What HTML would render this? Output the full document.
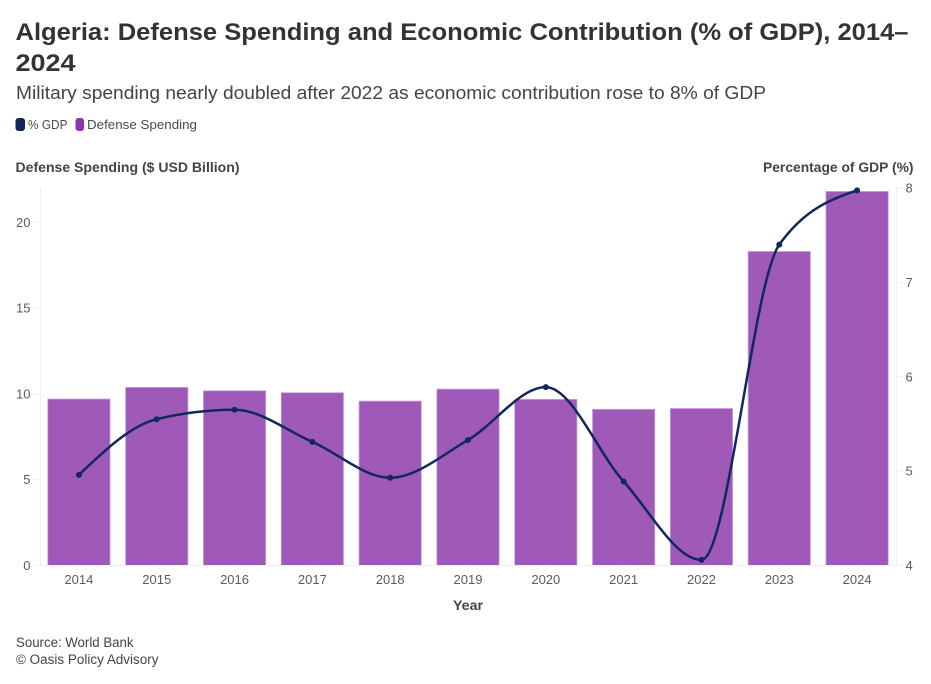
<!DOCTYPE html>
<html lang="en">
<head>
<meta charset="utf-8">
<title>Algeria: Defense Spending and Economic Contribution</title>
<style>
html,body{margin:0;padding:0;background:#fff;width:931px;height:684px;overflow:hidden}
svg{display:block;font-family:"Liberation Sans",sans-serif}
.tick{font-size:13px;fill:#5c5c5c}
.axt{font-size:14px;font-weight:700;fill:#444}
</style>
</head>
<body>
<svg id="chart" width="931" height="684" viewBox="0 0 931 684" xmlns="http://www.w3.org/2000/svg">
  <text x="15.5" y="40" font-size="24.5" font-weight="700" fill="#333" textLength="893" lengthAdjust="spacingAndGlyphs">Algeria: Defense Spending and Economic Contribution (% of GDP), 2014–</text>
  <text x="15.5" y="71" font-size="24.5" font-weight="700" fill="#333" textLength="60" lengthAdjust="spacingAndGlyphs">2024</text>
  <text x="16" y="99" font-size="18" fill="#444" textLength="750" lengthAdjust="spacingAndGlyphs">Military spending nearly doubled after 2022 as economic contribution rose to 8% of GDP</text>

  <g>
    <g>
      <rect x="15.5" y="118" width="9.5" height="13" rx="3" fill="#12275a"/>
      <text x="28" y="129" font-size="13" fill="#4a4a4a" textLength="39.5" lengthAdjust="spacingAndGlyphs">% GDP</text>
    </g>
    <g>
      <rect x="75.5" y="118" width="8.5" height="13" rx="3" fill="#8a35a8"/>
      <text x="87" y="129" font-size="13" fill="#4a4a4a" textLength="110" lengthAdjust="spacingAndGlyphs">Defense Spending</text>
    </g>
  </g>

  <text class="axt" x="15.5" y="172" textLength="224" lengthAdjust="spacingAndGlyphs">Defense Spending ($ USD Billion)</text>
  <text class="axt" x="763" y="172" textLength="150.5" lengthAdjust="spacingAndGlyphs">Percentage of GDP (%)</text>
  <text class="axt" x="468" y="610" text-anchor="middle" textLength="30" lengthAdjust="spacingAndGlyphs">Year</text>

  <g id="bars"></g>
  <g id="axes"></g>
  <path id="gdp-line" fill="none" stroke="#12275a" stroke-width="2.5" stroke-linejoin="round"/>
  <g id="points"></g>

  <text x="16" y="647" font-size="13.5" fill="#444" textLength="117.5" lengthAdjust="spacingAndGlyphs">Source: World Bank</text>
  <text x="16" y="664" font-size="13.5" fill="#444" textLength="142.5" lengthAdjust="spacingAndGlyphs">© Oasis Policy Advisory</text>
</svg>
<script>
const years = ["2014","2015","2016","2017","2018","2019","2020","2021","2022","2023","2024"];
const defenseSpending = [9.7,10.38,10.18,10.07,9.58,10.28,9.68,9.1,9.15,18.3,21.8];
const gdpPercent = [4.96,5.55,5.65,5.31,4.93,5.33,5.89,4.89,4.06,7.4,7.975];
const leftTicks = [0,5,10,15,20];
const rightTicks = [4,5,6,7,8];

const NS = "http://www.w3.org/2000/svg";
const plot = {left:40, right:896, bottom:565.5, top:188};
const step = (plot.right - plot.left) / years.length;
const barWidth = step * 0.8;
const xCenter = i => plot.left + step * (i + 0.5);
const yLeft = v => plot.bottom - v * (plot.bottom - plot.top) / 22;
const yRight = v => plot.bottom - (v - 4) * (plot.bottom - plot.top) / 4;

function make(tag, attrs, parent, text) {
  const el = document.createElementNS(NS, tag);
  for (const k in attrs) el.setAttribute(k, attrs[k]);
  if (text !== undefined) el.textContent = text;
  parent.appendChild(el);
  return el;
}

const barsG = document.getElementById("bars");
const axesG = document.getElementById("axes");
const pointsG = document.getElementById("points");
const axisColor = "#f0f0f0";

years.forEach((yr, i) => {
  const top = yLeft(defenseSpending[i]);
  const bar = make("rect", {x: xCenter(i) - barWidth / 2, y: top, width: barWidth, height: plot.bottom - top, fill: "#9e59b9", stroke: "#c9a0da", "stroke-width": 0.8}, barsG);
  
  
});

const baseLine = make("line", {x1: 34, x2: 903, y1: plot.bottom, y2: plot.bottom, stroke: axisColor}, axesG);


const leftLine = make("line", {x1: 40.5, x2: 40.5, y1: 187, y2: plot.bottom, stroke: axisColor}, axesG);


const rightLine = make("line", {x1: 896.5, x2: 896.5, y1: 187, y2: plot.bottom, stroke: axisColor}, axesG);



leftTicks.forEach(t => {
  const y = yLeft(t);
  const mark = make("line", {x1: 34, x2: 40, y1: y, y2: y, stroke: axisColor}, axesG);
  
  
  const label = make("text", {x: 30.5, y: y + 4.5, "text-anchor": "end", class: "tick"}, axesG, String(t));
  
  
});

rightTicks.forEach(t => {
  const y = yRight(t);
  const mark = make("line", {x1: 897, x2: 903, y1: y, y2: y, stroke: axisColor}, axesG);
  
  
  const label = make("text", {x: 905.5, y: y + 4.5, class: "tick"}, axesG, String(t));
  
  
});

years.forEach((yr, i) => {
  const x = xCenter(i);
  const mark = make("line", {x1: x, x2: x, y1: plot.bottom, y2: plot.bottom + 6, stroke: axisColor}, axesG);
  
  
  const label = make("text", {x: x, y: 584, "text-anchor": "middle", class: "tick"}, axesG, yr);
  
  
});

/* monotone-X cubic interpolation */
function sign(v) { return v < 0 ? -1 : 1; }
function monotonePath(xs, ys) {
  const n = xs.length, d = [], m = [];
  for (let i = 0; i < n - 1; i++) d.push((ys[i + 1] - ys[i]) / (xs[i + 1] - xs[i]));
  for (let i = 1; i < n - 1; i++) {
    const h0 = xs[i] - xs[i - 1], h1 = xs[i + 1] - xs[i];
    const p = (d[i - 1] * h1 + d[i] * h0) / (h0 + h1);
    m[i] = (sign(d[i - 1]) + sign(d[i])) * Math.min(Math.abs(d[i - 1]), Math.abs(d[i]), 0.5 * Math.abs(p)) || 0;
  }
  m[0] = (3 * d[0] - m[1]) / 2;
  m[n - 1] = (3 * d[n - 2] - m[n - 2]) / 2;
  let path = "M" + xs[0] + "," + ys[0];
  for (let i = 0; i < n - 1; i++) {
    const h = (xs[i + 1] - xs[i]) / 3;
    path += "C" + (xs[i] + h) + "," + (ys[i] + m[i] * h) + "," + (xs[i + 1] - h) + "," + (ys[i + 1] - m[i + 1] * h) + "," + xs[i + 1] + "," + ys[i + 1];
  }
  return path;
}

const xs = years.map((_, i) => xCenter(i));
const ys = gdpPercent.map(yRight);
document.getElementById("gdp-line").setAttribute("d", monotonePath(xs, ys));

years.forEach((yr, i) => {
  const dot = make("circle", {cx: xs[i], cy: ys[i], r: 3, fill: "#12275a"}, pointsG);
  
  
});
</script>
</body>
</html>
